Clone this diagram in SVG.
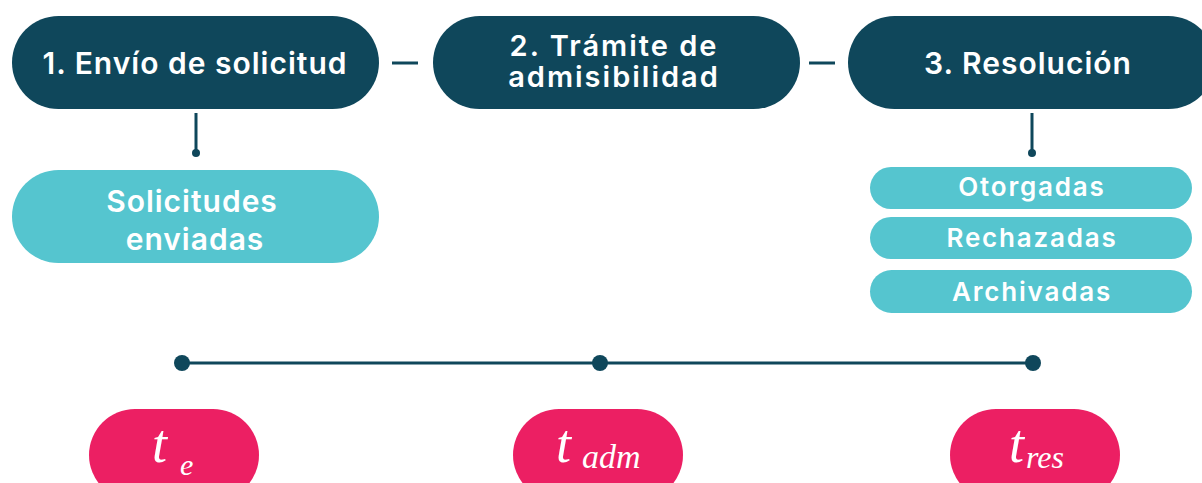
<svg xmlns="http://www.w3.org/2000/svg" width="1202" height="483" viewBox="0 0 1202 483">
<style>
.dark{fill:#0F475B}
.teal{fill:#55C5CF}
.pink{fill:#EC1F63}
.lbl{font-family:Inter,"Noto Sans","Liberation Sans",sans-serif;font-weight:600;fill:#fff;text-anchor:middle}
.big{font-size:30px;letter-spacing:1px}
.two{font-size:29px;letter-spacing:2px}
.sm{font-size:26px;letter-spacing:1.8px}
.line{stroke:#0F475B;stroke-width:3;fill:none}
.math{font-family:"Liberation Serif",serif;font-style:italic;fill:#fff}
</style>
<rect width="1202" height="483" fill="#fff"/>
<g id="connectors">
<line class="line" x1="392" y1="63" x2="418" y2="63"/>
<line class="line" x1="809" y1="63" x2="835" y2="63"/>
<line class="line" x1="196" y1="113" x2="196" y2="153"/>
<circle cx="196" cy="153" r="4" class="dark"/>
<line class="line" x1="1032" y1="113" x2="1032" y2="153"/>
<circle cx="1032" cy="153" r="4" class="dark"/>
<line class="line" x1="182" y1="363" x2="1033" y2="363"/>
<circle cx="182" cy="363" r="8" class="dark"/>
<circle cx="600" cy="363" r="8" class="dark"/>
<circle cx="1033" cy="363" r="8" class="dark"/>
</g>
<g id="n1">
<rect x="12" y="16" width="367" height="93" rx="46.5" class="dark"/>
<text x="195" y="74" class="lbl big">1. Envío de solicitud</text>
</g>
<g id="n2">
<rect x="433" y="16" width="367" height="93" rx="46.5" class="dark"/>
<text x="614" y="56" class="lbl two">2. Trámite de</text>
<text x="614" y="87" class="lbl two">admisibilidad</text>
</g>
<g id="n3">
<rect x="848" y="16" width="367" height="93" rx="46.5" class="dark"/>
<text x="1028" y="74" class="lbl big">3. Resolución</text>
</g>
<g id="n4">
<rect x="12" y="170" width="367" height="93" rx="46.5" class="teal"/>
<text x="192" y="212" class="lbl big">Solicitudes</text>
<text x="195" y="250" class="lbl big">enviadas</text>
</g>
<g id="n5">
<rect x="870" y="167" width="322" height="42" rx="21" class="teal"/>
<text x="1032" y="196" class="lbl sm">Otorgadas</text>
</g>
<g id="n6">
<rect x="870" y="217" width="322" height="42" rx="21" class="teal"/>
<text x="1032" y="247" class="lbl sm">Rechazadas</text>
</g>
<g id="n7">
<rect x="870" y="270" width="322" height="43" rx="21.5" class="teal"/>
<text x="1032" y="301" class="lbl sm">Archivadas</text>
</g>
<g id="t1">
<rect x="89" y="409" width="170" height="92" rx="46" class="pink"/>
<text x="152" y="462" class="math" font-size="54">t</text>
<text x="180" y="475" class="math" font-size="30">e</text>
</g>
<g id="t2">
<rect x="513" y="409" width="170" height="92" rx="46" class="pink"/>
<text x="556" y="462" class="math" font-size="54">t</text>
<text x="582" y="468" class="math" font-size="34">adm</text>
</g>
<g id="t3">
<rect x="950" y="409" width="170" height="92" rx="46" class="pink"/>
<text x="1009" y="462" class="math" font-size="54">t</text>
<text x="1026" y="468" class="math" font-size="32">res</text>
</g>
</svg>
